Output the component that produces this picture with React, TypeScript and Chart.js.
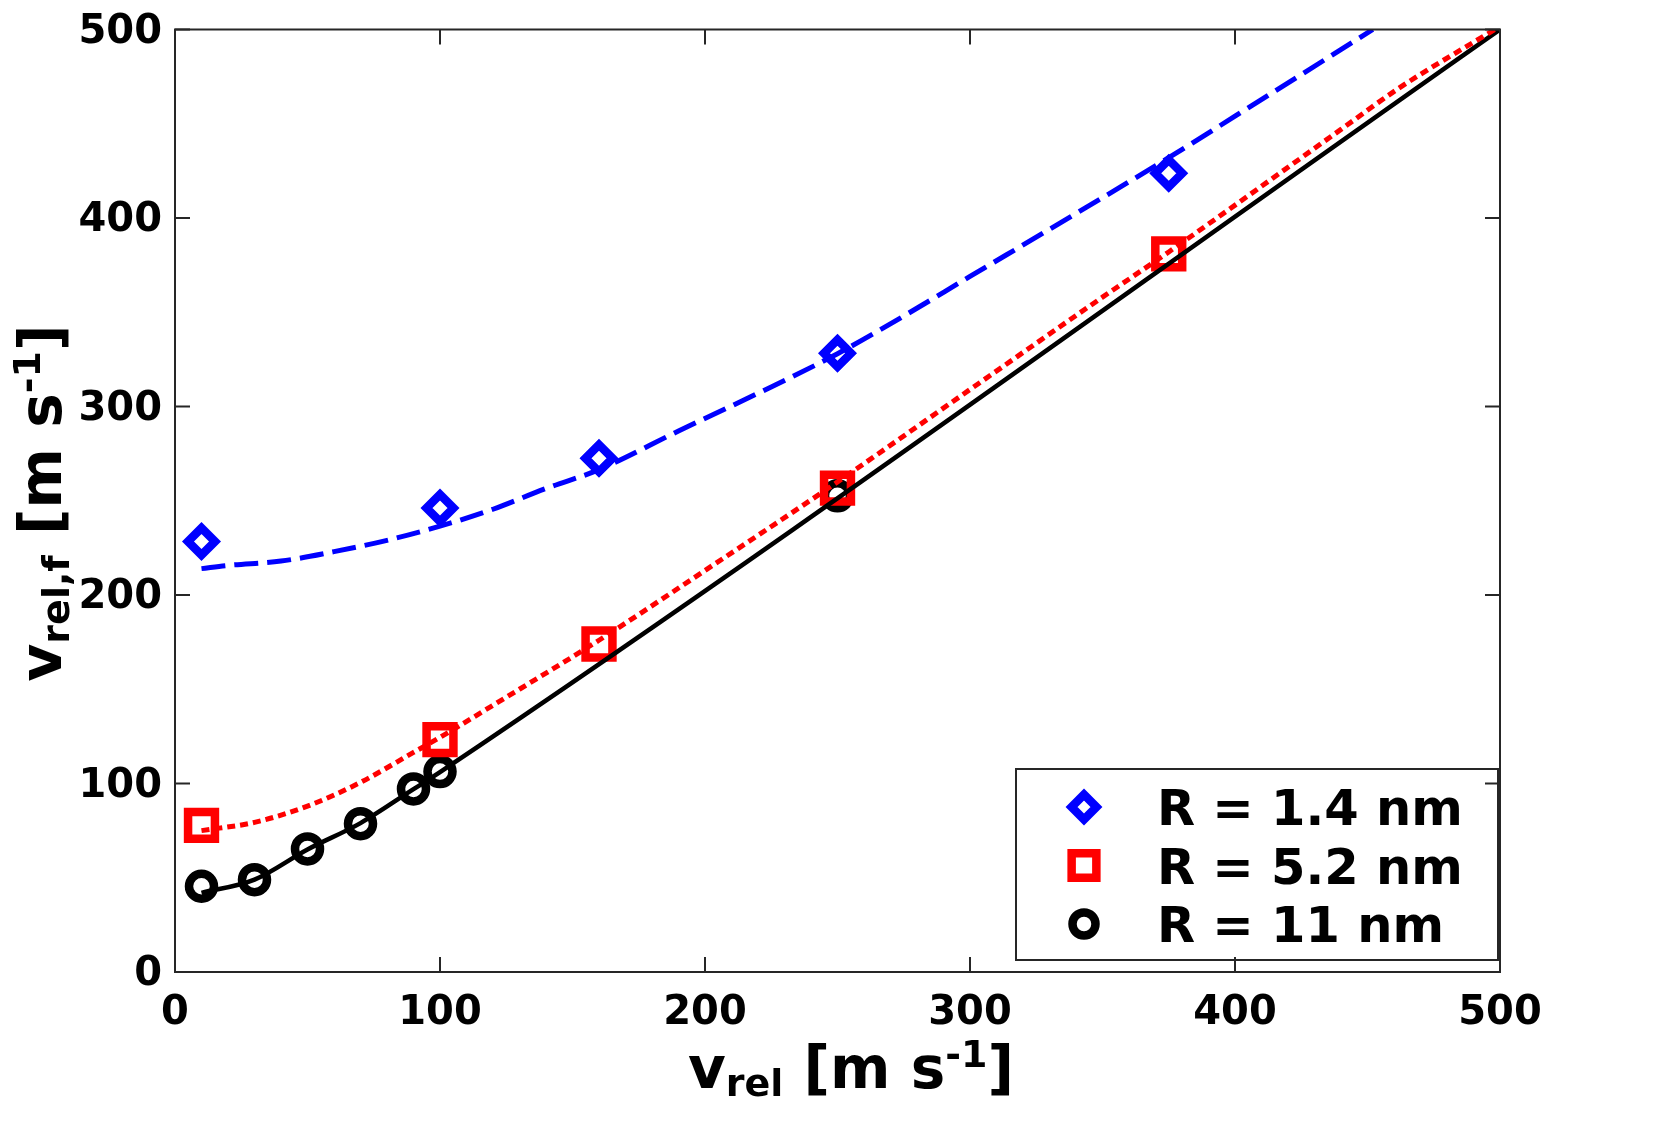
import { useEffect, useRef } from 'react';
import { Chart, registerables } from 'chart.js';

Chart.register(...registerables);

// ---------- data ----------
const xTickValues = [0, 100, 200, 300, 400, 500];
const yTickValues = [0, 100, 200, 300, 400, 500];

const seriesLabels = ['R = 1.4 nm', 'R = 5.2 nm', 'R = 11 nm'];

// measured points
const blueX = [10, 100, 160, 250, 375];
const blueY = [228.4, 246.1, 272.6, 328.3, 423.8];
const redX = [10, 100, 160, 250, 375];
const redY = [77.8, 123.3, 174, 256.7, 381];
const blackX = [10, 30, 50, 70, 90, 100, 250];
const blackY = [45.5, 49, 65.3, 78.7, 97.1, 106.3, 252.6];

// fitted curves
const blueFitX = [10, 20, 40, 60, 80, 100, 120, 140, 160, 190, 220, 250, 275, 300, 330, 375, 400, 452];
const blueFitY = [214, 215.7, 218, 223, 229, 236.5, 245.5, 256.5, 266.5, 287, 307, 328, 348, 369, 394, 432, 454, 500];
const redFitX = [10, 30, 50, 70, 90, 100, 120, 160, 200, 250, 300, 350, 375, 440, 462, 498];
const redFitY = [75, 79.4, 88, 100.6, 116.5, 124.5, 141.5, 176, 213, 260, 309, 358, 382, 447, 469, 500];
const blackFitX = [10, 30, 50, 70, 90, 100, 500];
const blackFitY = [42, 49, 65, 79, 97, 106, 500];

const BLUE = '#0000ff';
const RED = '#ff0000';
const BLACK = '#000000';
const AXIS = '#262626';
const FONT = '"DejaVu Sans", "Liberation Sans", sans-serif';

const pts = (xs: number[], ys: number[]) => xs.map((x, i) => ({ x, y: ys[i] }));

type Part = { t: string; s: number; dy: number };

function richWidth(ctx: CanvasRenderingContext2D, parts: Part[]) {
  let w = 0;
  for (const p of parts) {
    ctx.font = `bold ${p.s}px ${FONT}`;
    w += ctx.measureText(p.t).width;
  }
  return w;
}
function drawRich(ctx: CanvasRenderingContext2D, parts: Part[], x: number, y: number) {
  let cx = x;
  for (const p of parts) {
    ctx.font = `bold ${p.s}px ${FONT}`;
    ctx.fillText(p.t, cx, y + p.dy);
    cx += ctx.measureText(p.t).width;
  }
}

const titlePlugin = {
  id: 'richTitles',
  afterDraw(chart: any) {
    const ctx: CanvasRenderingContext2D = chart.ctx;
    ctx.save();
    ctx.fillStyle = BLACK;
    ctx.textAlign = 'left';
    ctx.textBaseline = 'alphabetic';
    const xParts: Part[] = [
      { t: 'v', s: 58, dy: 0 },
      { t: 'rel', s: 38, dy: 7.5 },
      { t: ' [m s', s: 58, dy: 0 },
      { t: '-1', s: 38, dy: -21 },
      { t: ']', s: 58, dy: 0 },
    ];
    const wx = richWidth(ctx, xParts);
    drawRich(ctx, xParts, 851 - wx / 2, 1088);

    const yParts: Part[] = [
      { t: 'v', s: 58, dy: 0 },
      { t: 'rel,f', s: 38, dy: 7.5 },
      { t: ' [m s', s: 58, dy: 0 },
      { t: '-1', s: 38, dy: -21 },
      { t: ']', s: 58, dy: 0 },
    ];
    const wy = richWidth(ctx, yParts);
    ctx.translate(61, 503);
    ctx.rotate(-Math.PI / 2);
    drawRich(ctx, yParts, -wy / 2, 0);
    ctx.restore();
  },
};

function drawMarker(ctx: CanvasRenderingContext2D, style: string, x: number, y: number, r: number) {
  ctx.beginPath();
  if (style === 'rectRot') {
    ctx.moveTo(x - r, y);
    ctx.lineTo(x, y - r);
    ctx.lineTo(x + r, y);
    ctx.lineTo(x, y + r);
    ctx.closePath();
  } else if (style === 'rect') {
    const s = r * Math.SQRT1_2;
    ctx.rect(x - s, y - s, 2 * s, 2 * s);
  } else {
    ctx.arc(x, y, r, 0, Math.PI * 2);
  }
  ctx.stroke();
}

const legendPlugin = {
  id: 'boxLegend',
  afterDraw(chart: any) {
    const ctx: CanvasRenderingContext2D = chart.ctx;
    const left = 1016, top = 769, right = 1498, bottom = 960;
    ctx.save();
    ctx.fillStyle = '#ffffff';
    ctx.fillRect(left, top, right - left, bottom - top);
    ctx.strokeStyle = AXIS;
    ctx.lineWidth = 2;
    ctx.strokeRect(left, top, right - left, bottom - top);
    const rows = [807, 865.5, 924];
    const markerSets = chart.data.datasets.filter((d: any) => d.isMarker);
    markerSets.forEach((d: any, i: number) => {
      ctx.strokeStyle = d.pointBorderColor;
      ctx.lineWidth = d.pointBorderWidth;
      ctx.lineJoin = 'miter';
      drawMarker(ctx, d.pointStyle, 1084, rows[i], d.pointRadius * 0.92);
      ctx.fillStyle = BLACK;
      ctx.font = `bold 49.5px ${FONT}`;
      ctx.textAlign = 'left';
      ctx.textBaseline = 'alphabetic';
      ctx.fillText(d.label, 1157, rows[i] + 18);
    });
    ctx.restore();
  },
};

const framePlugin = {
  id: 'frameTicks',
  afterDraw(chart: any) {
    const ctx: CanvasRenderingContext2D = chart.ctx;
    const { left, right, top, bottom } = chart.chartArea;
    const xs = chart.scales.x;
    const ys = chart.scales.y;
    const L = 15;
    ctx.save();
    ctx.strokeStyle = AXIS;
    ctx.lineWidth = 2;
    ctx.beginPath();
    xTickValues.forEach((v) => {
      const px = xs.getPixelForValue(v);
      ctx.moveTo(px, bottom);
      ctx.lineTo(px, bottom - L);
      ctx.moveTo(px, top);
      ctx.lineTo(px, top + L);
    });
    yTickValues.forEach((v) => {
      const py = ys.getPixelForValue(v);
      ctx.moveTo(left, py);
      ctx.lineTo(left + L, py);
      ctx.moveTo(right, py);
      ctx.lineTo(right - L, py);
    });
    ctx.stroke();
    ctx.strokeRect(left, top, right - left, bottom - top);
    ctx.restore();
  },
};

export default function App() {
  const ref = useRef<HTMLCanvasElement>(null);
  useEffect(() => {
    document.body.style.margin = '0';
    const xTickFont = { family: FONT, size: 40, weight: 'bold' as const };
    const yTickFont = { family: FONT, size: 40, weight: 'bold' as const, lineHeight: 0.4 };
    const chart = new Chart(ref.current as HTMLCanvasElement, {
      type: 'scatter',
      data: {
        datasets: [
          {
            label: 'fit 1.4',
            data: pts(blueFitX, blueFitY),
            showLine: true,
            pointRadius: 0,
            borderColor: BLUE,
            borderWidth: 5,
            borderDash: [24, 9],
            borderCapStyle: 'butt',
            tension: 0.4,
            cubicInterpolationMode: 'monotone',
            order: 1,
          } as any,
          {
            label: 'fit 5.2',
            data: pts(redFitX, redFitY),
            showLine: true,
            pointRadius: 0,
            borderColor: RED,
            borderWidth: 5,
            borderDash: [8, 5],
            borderCapStyle: 'butt',
            tension: 0.4,
            cubicInterpolationMode: 'monotone',
            order: 1,
          } as any,
          {
            label: 'fit 11',
            data: pts(blackFitX, blackFitY),
            showLine: true,
            pointRadius: 0,
            borderColor: BLACK,
            borderWidth: 4.5,
            tension: 0.4,
            cubicInterpolationMode: 'monotone',
            order: 1,
          } as any,
          {
            label: seriesLabels[0],
            isMarker: true,
            data: pts(blueX, blueY),
            showLine: false,
            pointStyle: 'rectRot',
            pointRadius: 13.5,
            pointBorderWidth: 8.5,
            pointBorderColor: BLUE,
            pointBackgroundColor: 'rgba(0,0,0,0)',
            borderColor: BLUE,
            order: 2,
          } as any,
          {
            label: seriesLabels[1],
            isMarker: true,
            data: pts(redX, redY),
            showLine: false,
            pointStyle: 'rect',
            pointRadius: 19,
            pointBorderWidth: 8.5,
            pointBorderColor: RED,
            pointBackgroundColor: 'rgba(0,0,0,0)',
            borderColor: RED,
            order: 2,
          } as any,
          {
            label: seriesLabels[2],
            isMarker: true,
            data: pts(blackX, blackY),
            showLine: false,
            pointStyle: 'circle',
            pointRadius: 12.5,
            pointBorderWidth: 8.5,
            pointBorderColor: BLACK,
            pointBackgroundColor: 'rgba(0,0,0,0)',
            borderColor: BLACK,
            order: 2,
          } as any,
        ],
      },
      options: {
        responsive: false,
        animation: false,
        layout: { padding: { left: 0, top: 29.5, right: 167, bottom: 0 } },
        plugins: {
          legend: { display: false },
          tooltip: { enabled: false },
        },
        scales: {
          x: {
            type: 'linear',
            min: 0,
            max: 500,
            afterFit: (s: any) => {
              s.height = 153;
            },
            grid: { display: false, drawTicks: false },
            border: { display: false },
            ticks: { stepSize: 100, padding: 17.5, color: BLACK, font: xTickFont },
          },
          y: {
            type: 'linear',
            min: 0,
            max: 500,
            afterFit: (s: any) => {
              s.width = 175;
            },
            grid: { display: false, drawTicks: false },
            border: { display: false },
            ticks: { stepSize: 100, padding: 13, labelOffset: 3, color: BLACK, font: yTickFont },
          },
        },
      } as any,
      plugins: [titlePlugin, legendPlugin, framePlugin],
    });
    return () => chart.destroy();
  }, []);
  return (
    <div style={{ width: 1667, height: 1125 }}>
      <canvas ref={ref} width={1667} height={1125} style={{ display: 'block' }} />
    </div>
  );
}
